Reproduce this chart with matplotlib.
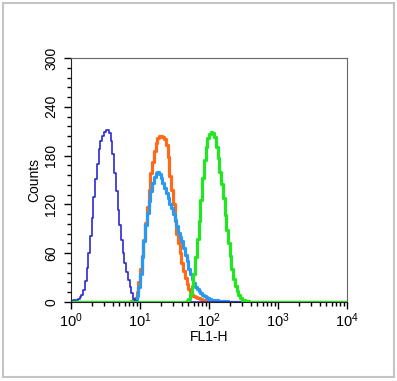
import numpy as np
import matplotlib.pyplot as plt
from matplotlib.patches import Rectangle
from matplotlib.ticker import MultipleLocator, LogLocator, NullFormatter

plt.rcParams['font.family'] = ['Liberation Sans', 'DejaVu Sans']

# histogram channels: 0.025 decade wide over 10^0 .. 10^4
bin_width = 0.025
n_bins = 160

# counts per channel, stored as (first channel index, values)
blue_start = 0
blue_counts = [1, 2, 3, 3, 4, 6, 9, 15, 26, 42, 60, 81, 103, 129, 151, 170, 188, 198,
               204, 209, 211, 211, 208, 198, 182, 158, 136, 113, 95, 76, 60, 48, 37,
               27, 18, 11, 4, 1]

orange_start = 35
orange_counts = [1, 2, 5, 12, 24, 40, 57, 76, 97, 117, 138, 158, 172, 186, 196, 202,
                 204, 204, 203, 200, 193, 178, 155, 138, 120, 100, 84, 72, 60, 48, 38,
                 30, 22, 16, 12, 9, 7, 6, 5, 5, 4, 3, 3, 2, 2, 1, 1, 1, 1, 1, 1]

lightblue_start = 36
lightblue_counts = [1, 2, 7, 18, 35, 55, 75, 95, 110, 124, 137, 146, 154, 158, 160, 157,
                    152, 146, 140, 134, 128, 121, 115, 108, 101, 93, 85, 80, 75, 67, 58,
                    50, 41, 34, 28, 23, 18, 16, 13, 11, 9, 7, 6, 5, 4, 3, 3, 2, 2,
                    1, 1, 1, 1, 1, 1]

green_start = 67
green_counts = [1, 4, 10, 20, 34, 55, 77, 100, 126, 153, 175, 190, 202, 207, 209, 208,
                203, 190, 177, 160, 145, 128, 107, 89, 73, 57, 41, 28, 20, 13, 8, 5,
                3, 2, 1, 1]


def full_series(start, counts):
    y = np.zeros(n_bins)
    y[start:start + len(counts)] = counts
    return y


centers = 10 ** ((np.arange(n_bins) + 0.5) * bin_width)

fig = plt.figure(figsize=(3.97, 3.81), dpi=100)
fig.patches.append(Rectangle((3 / 397, 4 / 381), 391 / 397, 374 / 381,
                             transform=fig.transFigure, fill=False,
                             edgecolor='#c4c4c4', linewidth=1.5))

ax = fig.add_axes([71 / 397, 79 / 381, 276 / 397, 244 / 381])

ax.plot(centers, full_series(orange_start, orange_counts), drawstyle='steps-mid',
        color='#ff6a1a', linewidth=2.3)
ax.plot(centers, full_series(lightblue_start, lightblue_counts), drawstyle='steps-mid',
        color='#2a9af0', linewidth=2.3)
ax.plot(centers, full_series(blue_start, blue_counts), drawstyle='steps-mid',
        color='#2a2ad0', linewidth=1.2)
ax.plot(centers, full_series(green_start, green_counts), drawstyle='steps-mid',
        color='#22e622', linewidth=2.3)

ax.set_xscale('log')
ax.set_xlim(1, 1e4)
ax.set_ylim(0, 300)

ax.yaxis.set_major_locator(MultipleLocator(60))
ax.yaxis.set_minor_locator(MultipleLocator(12))
ax.xaxis.set_major_locator(LogLocator(base=10, numticks=10))
ax.xaxis.set_minor_locator(LogLocator(base=10, subs=np.arange(2, 10), numticks=20))
ax.xaxis.set_minor_formatter(NullFormatter())

ax.tick_params(which='both', direction='out', top=False, right=False, width=1)
ax.tick_params(which='major', length=5)
ax.tick_params(which='minor', length=3)
ax.tick_params(axis='x', labelsize=10.5, pad=2)
ax.tick_params(axis='y', labelsize=10, pad=4)
for lab in ax.get_yticklabels():
    lab.set_rotation(90)
    lab.set_va('center')

for side in ['top', 'right']:
    ax.spines[side].set_color('#666666')
ax.spines['left'].set_color('#222222')
ax.spines['bottom'].set_color('#222222')

ax.set_xlabel('FL1-H', fontsize=10, labelpad=0)
ax.set_ylabel('Counts', fontsize=10, labelpad=2)

fig.savefig('out.png', dpi=100)
